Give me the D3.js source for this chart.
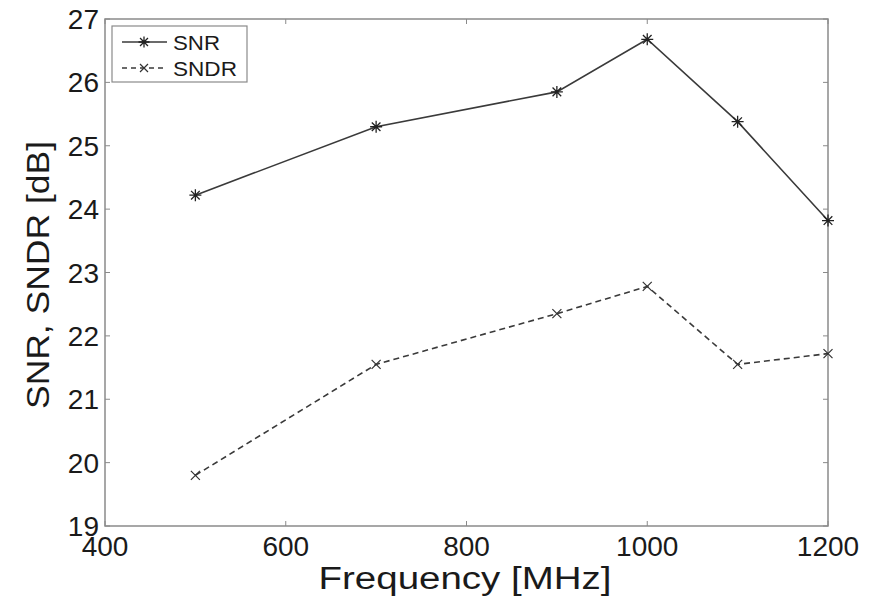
<!DOCTYPE html>
<html><head><meta charset="utf-8">
<script src="https://cdn.jsdelivr.net/npm/d3@7"></script>
<style>body{margin:0;background:#fff}</style>
</head><body>
<svg id="c" width="878" height="600"></svg>
<script>
const freqs = [500, 700, 900, 1000, 1100, 1200];
const snr = [24.22, 25.30, 25.85, 26.68, 25.38, 23.82];
const sndr = [19.80, 21.55, 22.35, 22.78, 21.55, 21.72];
const xTicks = [400, 600, 800, 1000, 1200];
const yTicks = [19, 20, 21, 22, 23, 24, 25, 26, 27];
const seriesNames = ["SNR", "SNDR"];

const svg = d3.select("#c");
const m = {l: 105, r: 828, t: 19, b: 526};
const x = d3.scaleLinear().domain([400, 1200]).range([m.l, m.r]);
const y = d3.scaleLinear().domain([19, 27]).range([m.b, m.t]);
const axisCol = "#8a8a8a", textCol = "#1a1a1a", lineCol = "#3a3a3a";
const font = "Liberation Sans, Arial, sans-serif";

svg.append("rect").attr("x", m.l).attr("y", m.t).attr("width", m.r - m.l).attr("height", m.b - m.t)
  .attr("fill", "none").attr("stroke", axisCol).attr("stroke-width", 1.5);

const tl = 5;
xTicks.forEach(t => {
  svg.append("line").attr("x1", x(t)).attr("x2", x(t)).attr("y1", m.b).attr("y2", m.b - tl).attr("stroke", axisCol);
  svg.append("line").attr("x1", x(t)).attr("x2", x(t)).attr("y1", m.t).attr("y2", m.t + tl).attr("stroke", axisCol);
  svg.append("text").attr("x", x(t)).attr("y", 556).attr("text-anchor", "middle")
    .attr("font-family", font).attr("font-size", 28).attr("fill", textCol).text(t);
});
yTicks.forEach(t => {
  svg.append("line").attr("y1", y(t)).attr("y2", y(t)).attr("x1", m.l).attr("x2", m.l + tl).attr("stroke", axisCol);
  svg.append("line").attr("y1", y(t)).attr("y2", y(t)).attr("x1", m.r).attr("x2", m.r - tl).attr("stroke", axisCol);
  svg.append("text").attr("x", 99).attr("y", y(t) + 10).attr("text-anchor", "end")
    .attr("font-family", font).attr("font-size", 28).attr("fill", textCol).text(t);
});

svg.append("text").attr("x", 465).attr("y", 589).attr("text-anchor", "middle")
  .attr("font-family", font).attr("font-size", 31).attr("fill", textCol)
  .attr("textLength", 293).attr("lengthAdjust", "spacingAndGlyphs").text("Frequency [MHz]");
svg.append("text").attr("transform", `translate(49,275) rotate(-90)`).attr("text-anchor", "middle")
  .attr("font-family", font).attr("font-size", 32).attr("fill", textCol)
  .attr("textLength", 268).attr("lengthAdjust", "spacingAndGlyphs").text("SNR, SNDR [dB]");

const line = d3.line().x(d => x(d[0])).y(d => y(d[1]));
const d1 = freqs.map((f, i) => [f, snr[i]]);
const d2 = freqs.map((f, i) => [f, sndr[i]]);

svg.append("path").attr("d", line(d1)).attr("fill", "none").attr("stroke", lineCol).attr("stroke-width", 1.6);
svg.append("path").attr("d", line(d2)).attr("fill", "none").attr("stroke", lineCol).attr("stroke-width", 1.6)
  .attr("stroke-dasharray", "6,4");

function star(g, cx, cy, r) {
  const p = d3.path();
  p.moveTo(cx - r, cy); p.lineTo(cx + r, cy);
  p.moveTo(cx, cy - r); p.lineTo(cx, cy + r);
  const k = r * 0.72;
  p.moveTo(cx - k, cy - k); p.lineTo(cx + k, cy + k);
  p.moveTo(cx - k, cy + k); p.lineTo(cx + k, cy - k);
  g.append("path").attr("d", p.toString()).attr("stroke", "#222").attr("stroke-width", 1.3).attr("fill", "none");
}
function cross(g, cx, cy, r) {
  const p = d3.path();
  p.moveTo(cx - r, cy - r); p.lineTo(cx + r, cy + r);
  p.moveTo(cx - r, cy + r); p.lineTo(cx + r, cy - r);
  g.append("path").attr("d", p.toString()).attr("stroke", "#333").attr("stroke-width", 1.2).attr("fill", "none");
}
d1.forEach(d => star(svg, x(d[0]), y(d[1]), 6));
d2.forEach(d => cross(svg, x(d[0]), y(d[1]), 4.5));

const lg = svg.append("g");
lg.append("rect").attr("x", 112).attr("y", 26).attr("width", 135).attr("height", 56)
  .attr("fill", "#fff").attr("stroke", axisCol).attr("stroke-width", 1.2);
const ly = [42, 68];
lg.append("line").attr("x1", 122).attr("x2", 167).attr("y1", ly[0]).attr("y2", ly[0]).attr("stroke", lineCol).attr("stroke-width", 1.6);
star(lg, 144, ly[0], 5.5);
lg.append("line").attr("x1", 122).attr("x2", 167).attr("y1", ly[1]).attr("y2", ly[1]).attr("stroke", lineCol).attr("stroke-width", 1.6).attr("stroke-dasharray", "5,4");
cross(lg, 144, ly[1], 4);
const legLens = [47, 64];
seriesNames.forEach((n, i) => {
  lg.append("text").attr("x", 173).attr("y", ly[i] + 8).attr("font-family", font).attr("font-size", 21)
    .attr("fill", textCol).attr("textLength", legLens[i]).attr("lengthAdjust", "spacingAndGlyphs").text(n);
});
</script>
</body></html>
